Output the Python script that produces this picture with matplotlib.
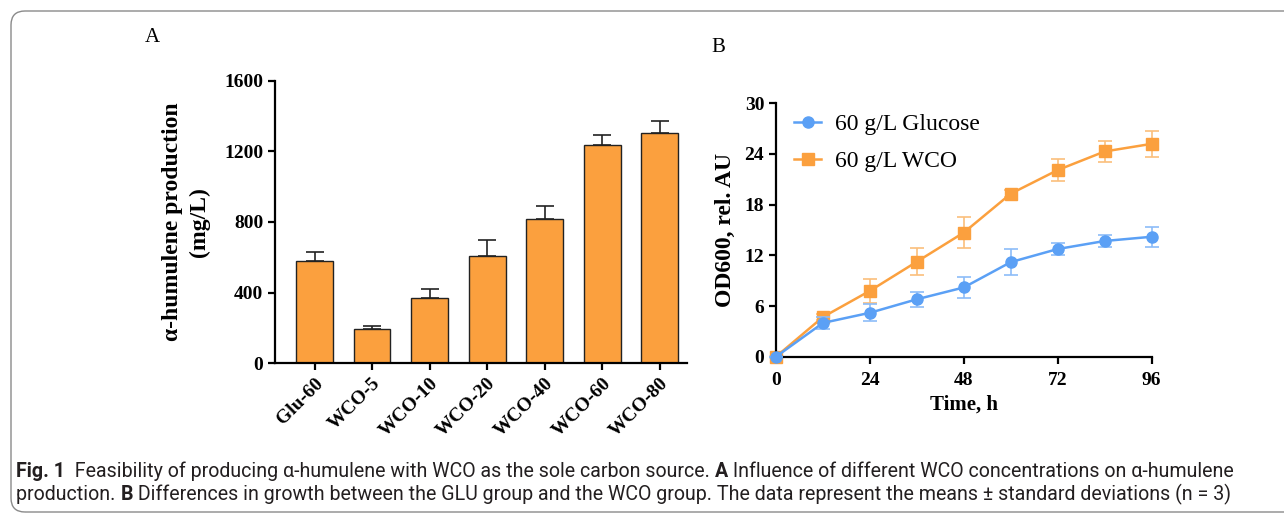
import matplotlib
matplotlib.use('Agg')
import matplotlib.pyplot as plt
from matplotlib.patches import FancyBboxPatch
import numpy as np

# panel A data
groups = ['Glu-60', 'WCO-5', 'WCO-10', 'WCO-20', 'WCO-40', 'WCO-60', 'WCO-80']
production = [581, 192, 368, 607, 819, 1234, 1306]
production_err = [49, 19, 51, 91, 70, 59, 66]

# panel B data
time_h = [0, 12, 24, 36, 48, 60, 72, 84, 96]
od_glucose = [0, 4.0, 5.2, 6.8, 8.2, 11.2, 12.75, 13.7, 14.2]
od_glucose_err = [0, 0.7, 1.0, 0.9, 1.2, 1.55, 0.75, 0.7, 1.2]
od_wco = [0, 4.7, 7.8, 11.25, 14.7, 19.3, 22.1, 24.3, 25.2]
od_wco_err = [0, 0.3, 1.45, 1.6, 1.8, 0.4, 1.25, 1.2, 1.5]

ORANGE = '#FBA03E'
BLUE = '#5BA0F5'
W, H = 1284, 514

plt.rcParams['font.family'] = 'Liberation Serif'

fig = plt.figure(figsize=(12.84, 5.14), dpi=100)

# rounded frame around the figure
frame = FancyBboxPatch((0.11, 0.02), 13.5, 5.01, boxstyle='round,pad=0,rounding_size=0.14',
                       transform=fig.dpi_scale_trans, fill=False, edgecolor='#8a8a8a', lw=1.0)
fig.patches.append(frame)


def style_axes(ax):
    for side in ['top', 'right']:
        ax.spines[side].set_visible(False)
    for side in ['left', 'bottom']:
        ax.spines[side].set_linewidth(1.6)
    ax.tick_params(width=1.6, length=5, labelsize=14)
    for lab in ax.get_xticklabels() + ax.get_yticklabels():
        lab.set_fontweight('bold')


# ---- panel A ----
axA = fig.add_axes([275 / W, 1 - 363.3 / H, 412 / W, 282.6 / H])
x = np.arange(len(groups))
axA.bar(x, production, width=0.64, color=ORANGE, edgecolor='#222222', linewidth=1.0, zorder=2)
axA.errorbar(x, production, yerr=[np.zeros(len(x)), production_err], fmt='none',
             ecolor='#222222', elinewidth=1.2, capsize=6.5, capthick=1.2, zorder=1)
axA.set_xlim(-0.687, 6.475)
axA.set_ylim(0, 1600)
axA.set_yticks([0, 400, 800, 1200, 1600])
axA.set_xticks(x)
axA.set_xticklabels(groups, rotation=45, ha='right', rotation_mode='anchor')
style_axes(axA)
axA.set_ylabel('α-humulene production\n(mg/L)', fontsize=17, fontweight='bold', labelpad=10,
               linespacing=1.35)
fig.text(152 / W, 1 - 38 / H, 'A', fontsize=15, va='center', ha='center')

# ---- panel B ----
axB = fig.add_axes([776 / W, 1 - 356.7 / H, 375.7 / W, 253.4 / H])
axB.errorbar(time_h, od_glucose, yerr=od_glucose_err, color=BLUE, ecolor='#8cbcf8',
             marker='o', markersize=8, lw=1.8, elinewidth=1.2, capsize=5, capthick=1.2,
             label='60 g/L Glucose', clip_on=False, zorder=3)
axB.errorbar(time_h, od_wco, yerr=od_wco_err, color=ORANGE, ecolor='#fbbf7c',
             marker='s', markersize=8, lw=1.8, elinewidth=1.2, capsize=5, capthick=1.2,
             label='60 g/L WCO', clip_on=False, zorder=2)
axB.set_xlim(0, 96)
axB.set_ylim(0, 30)
axB.set_xticks([0, 24, 48, 72, 96])
axB.set_yticks([0, 6, 12, 18, 24, 30])
style_axes(axB)
axB.tick_params(axis='x', pad=6)
axB.set_xlabel('Time, h', fontsize=15, fontweight='bold', labelpad=4)
axB.set_ylabel('OD600, rel. AU', fontsize=17, fontweight='bold', labelpad=6)
handles, labels = axB.get_legend_handles_labels()
handles = [h[0] for h in handles]
axB.legend(handles, labels, loc='upper left', bbox_to_anchor=(0.048, 0.96), frameon=False,
           fontsize=17, handlelength=1.15, handletextpad=0.6, labelspacing=0.65,
           borderpad=0, borderaxespad=0)
fig.text(718 / W, 1 - 47 / H, 'B', fontsize=15, va='center', ha='center')

# ---- caption ----
CAP_FONT = ['Roboto', 'DejaVu Sans']
line1 = [('Fig. 1', 'bold'), ('  Feasibility of producing α-humulene with WCO as the sole carbon source. ', 'normal'),
         ('A', 'bold'), (' Influence of different WCO concentrations on α-humulene', 'normal')]
line2 = [('production. ', 'normal'), ('B', 'bold'),
         (' Differences in growth between the GLU group and the WCO group. The data represent the means ± standard deviations (n = 3)', 'normal')]

renderer = fig.canvas.get_renderer()


def put_line(segs, ypix, size, x0=16):
    xpix = x0
    texts = []
    for txt, weight in segs:
        t = fig.text(xpix / W, 1 - ypix / H, txt, fontsize=size, fontweight=weight,
                     family=CAP_FONT, va='baseline', ha='left', color='#231f20')
        xpix += t.get_window_extent(renderer).width
        texts.append(t)
    return texts, xpix - x0


# size the caption so line 1 spans the same width as in the figure
probe, width = put_line(line1, 477, 12)
for t in probe:
    t.remove()
cap_size = 12 * 1212 / width
put_line(line1, 477, cap_size)
put_line(line2, 500, cap_size)

fig.savefig('out.png', dpi=100)
